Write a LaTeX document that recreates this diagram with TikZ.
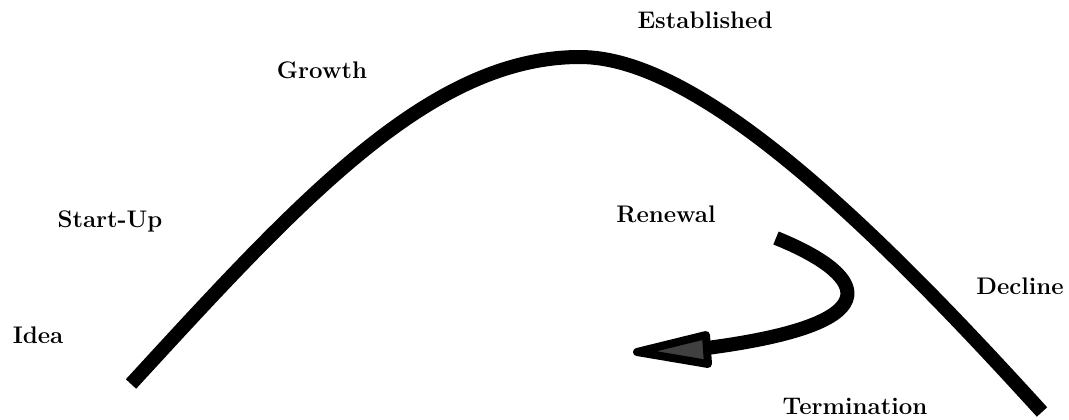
\documentclass[tikz,border=0pt]{standalone}
\usepackage{fontspec}
\setmainfont{Latin Modern Roman}
\begin{document}
\begin{tikzpicture}[x=1pt,y=-1pt,
  lbl/.style={font=\fontsize{24}{28}\selectfont\bfseries, inner sep=0pt, anchor=base},
  curve/.style={line width=14pt, line cap=butt, line join=round},
  head/.style={line width=8pt, line join=round, fill=black!75}]
\useasboundingbox (0,0) rectangle (1069,420);
\node[lbl] (est) at (705,29) {Established};
\node[lbl] (gro) at (322,79) {Growth};
\node[lbl] (stu) at (110,227) {Start-Up};
\node[lbl] (ren) at (666,222) {Renewal};
\node[lbl] (dec) at (1020,294) {Decline};
\node[lbl] (ide) at (38,343) {Idea};
\node[lbl] (ter) at (855,414) {Termination};
\coordinate (c0) at (131,384);
\coordinate (c1) at (580,57);
\coordinate (c2) at (1042,412);
\draw[curve] (c0) .. controls (300,200) and (430,57) .. (c1)
                  .. controls (700,57) and (874,227) .. (c2);
\coordinate (a0) at (776,238);
\coordinate (a1) at (707,348);
\draw[curve] (a0) .. controls (860,272) and (905,322) .. (a1);
\coordinate (t1) at (637,352);
\coordinate (t2) at (706,335);
\coordinate (t3) at (708,364);
\draw[head] (t1) -- (t2) -- (t3) -- cycle;
\end{tikzpicture}
\end{document}
